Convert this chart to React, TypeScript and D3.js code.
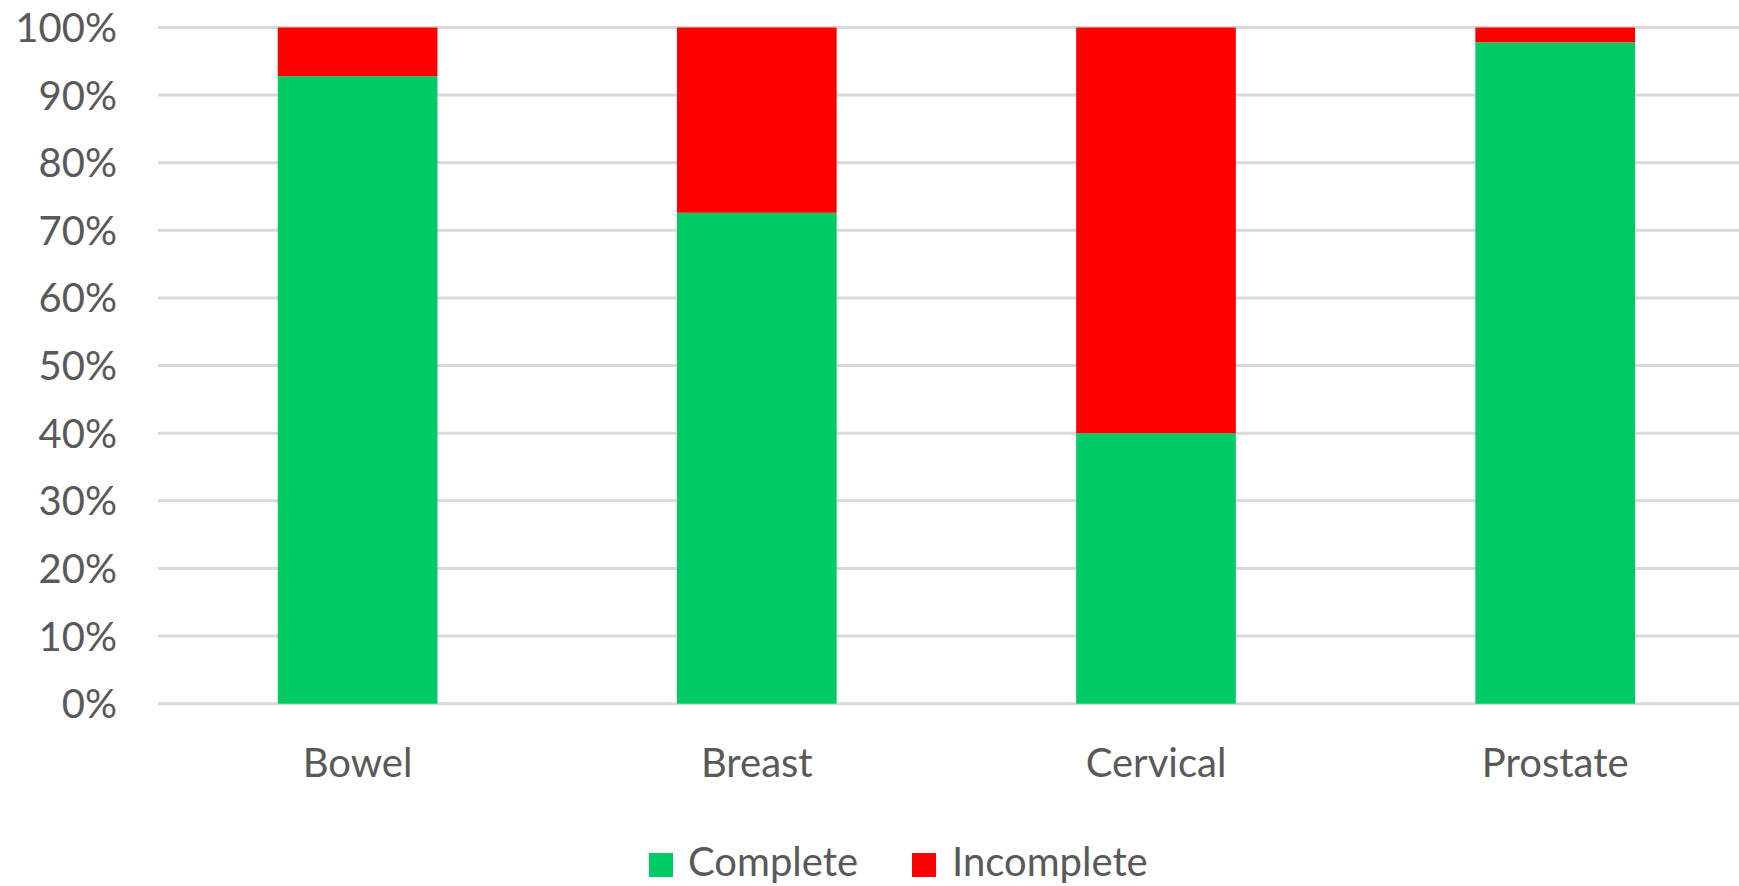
import React from "react";
import * as d3 from "d3";

const categories = ["Bowel", "Breast", "Cervical", "Prostate"];
const completeValues = [0.928, 0.726, 0.400, 0.978];
const incompleteValues = [0.072, 0.274, 0.600, 0.022];
const yTicks = [0, 0.1, 0.2, 0.3, 0.4, 0.5, 0.6, 0.7, 0.8, 0.9, 1.0];
const seriesNames = ["Complete", "Incomplete"];
const seriesColors = ["#00CC66", "#FF0000"];

const W = 1739;
const H = 886;
const FONT = "Lato, 'Open Sans', sans-serif";
const TEXT = "#595959";

export default function App() {
  const x = d3
    .scaleBand<string>()
    .domain(categories)
    .range([158, 1754.8])
    .paddingInner(0.6)
    .paddingOuter(0.3);
  const y = d3.scaleLinear().domain([0, 1]).range([703.7, 27.5]);
  const fmt = d3.format(".0%");

  const rows = categories.map((c, i) => ({
    cat: c,
    Complete: completeValues[i],
    Incomplete: incompleteValues[i],
  }));
  const stacked = d3.stack<any>().keys(seriesNames)(rows);

  return (
    <svg
      width={W}
      height={H}
      style={{ position: "absolute", left: 0, top: 0, background: "#fff" }}
    >
      <rect x={0} y={0} width={W} height={H} fill="#fff" />
      {yTicks.map((t) => (
        <line
          key={"g" + t}
          x1={158}
          x2={1754.8}
          y1={y(t)}
          y2={y(t)}
          stroke="#D9D9D9"
          strokeWidth={3}
        />
      ))}
      {yTicks.map((t) => (
        <text
          key={"t" + t}
          x={117}
          y={y(t) + 14.5}
          textAnchor="end"
          fontFamily={FONT}
          fontSize={40}
          fill={TEXT}
        >
          {fmt(t)}
        </text>
      ))}
      {stacked.map((s, si) => (
        <g key={s.key} fill={seriesColors[si]}>
          {s.map((d, i) => (
            <rect
              key={i}
              x={x(categories[i])}
              width={x.bandwidth()}
              y={y(d[1])}
              height={y(d[0]) - y(d[1])}
            />
          ))}
        </g>
      ))}
      {categories.map((c) => (
        <text
          key={"x" + c}
          x={(x(c) as number) + x.bandwidth() / 2}
          y={776.5}
          textAnchor="middle"
          fontFamily={FONT}
          fontSize={40}
          fill={TEXT}
        >
          {c}
        </text>
      ))}
      <g>
        <rect x={649} y={853} width={24} height={24} fill={seriesColors[0]} />
        <text x={688} y={876} fontFamily={FONT} fontSize={40} fill={TEXT}>
          {seriesNames[0]}
        </text>
        <rect x={912} y={853} width={24} height={24} fill={seriesColors[1]} />
        <text x={952} y={876} fontFamily={FONT} fontSize={40} fill={TEXT}>
          {seriesNames[1]}
        </text>
      </g>
    </svg>
  );
}
